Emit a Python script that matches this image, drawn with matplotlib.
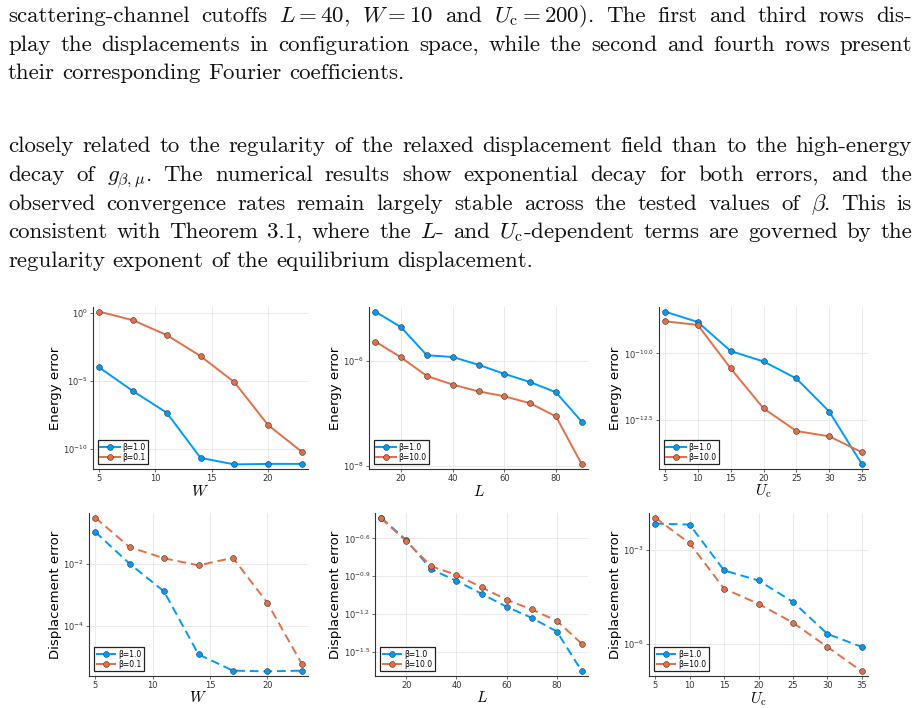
import numpy as np
import matplotlib
matplotlib.use("Agg")
from matplotlib import pyplot as plt
from matplotlib import transforms as mtransforms

plt.rcParams['mathtext.fontset'] = 'dejavusans'

# ---- data ----
W_vals = [5, 8, 11, 14, 17, 20, 23]
L_vals = [10, 20, 30, 40, 50, 60, 70, 80, 90]
Uc_vals = [5, 10, 15, 20, 25, 30, 35]

energy_W_b1 = [9.8e-5, 1.8e-6, 4.7e-8, 2.3e-11, 7.6e-12, 8.3e-12, 8.3e-12]
energy_W_b01 = [1.2e0, 2.8e-1, 2.3e-2, 6.6e-4, 8.1e-6, 5.8e-9, 6.3e-11]
energy_L_b1 = [8.5e-6, 4.3e-6, 1.26e-6, 1.17e-6, 8.3e-7, 5.6e-7, 3.9e-7, 2.5e-7, 6.9e-8]
energy_L_b10 = [2.3e-6, 1.15e-6, 5.1e-7, 3.5e-7, 2.6e-7, 2.1e-7, 1.55e-7, 8.7e-8, 1.07e-8]
energy_U_b1 = [3.7e-9, 1.5e-9, 1.23e-10, 5.0e-11, 1.15e-11, 6.6e-13, 6.9e-15]
energy_U_b10 = [1.6e-9, 1.17e-9, 2.75e-11, 8.7e-13, 1.23e-13, 7.8e-14, 1.95e-14]

disp_W_b1 = [1.05e-1, 1.0e-2, 1.3e-3, 1.26e-5, 3.8e-6, 3.6e-6, 3.8e-6]
disp_W_b01 = [3.0e-1, 3.4e-2, 1.5e-2, 8.9e-3, 1.55e-2, 5.6e-4, 6.3e-6]
disp_L_b1 = [0.367, 0.244, 0.143, 0.116, 0.0916, 0.0721, 0.059, 0.0459, 0.0222]
disp_L_b10 = [0.363, 0.239, 0.151, 0.129, 0.103, 0.082, 0.0687, 0.0558, 0.0366]
disp_U_b1 = [6.8e-3, 6.3e-3, 2.2e-4, 1.05e-4, 2.2e-5, 2.1e-6, 8.1e-7]
disp_U_b10 = [1.05e-2, 1.6e-3, 5.8e-5, 1.9e-5, 4.8e-6, 8.1e-7, 1.35e-7]

# y tick exponents shown on each panel
yt_energy_W = ['0', '-5', '-10']
yt_energy_L = ['-6', '-8']
yt_energy_U = ['-10.0', '-12.5']
yt_disp_W = ['-2', '-4']
yt_disp_L = ['-0.6', '-0.9', '-1.2', '-1.5']
yt_disp_U = ['-3', '-6']

# math is written without spaces so lines can be split into words
para1 = [
    r"scattering-channel cutoffs $L=40$, $W=10$ and $U_{\mathrm{c}}=200$). The first and third rows dis-",
    "play the displacements in configuration space, while the second and fourth rows present",
    "their corresponding Fourier coefficients.",
]
para2 = [
    "closely related to the regularity of the relaxed displacement field than to the high-energy",
    r"decay of $g_{\beta,\mu}$.  The numerical results show exponential decay for both errors, and the",
    r"observed convergence rates remain largely stable across the tested values of $\beta$.  This is",
    r"consistent with Theorem 3.1, where the $L$- and $U_{\mathrm{c}}$-dependent terms are governed by the",
    "regularity exponent of the equilibrium displacement.",
]

BLUE = '#009AFA'
ORANGE = '#E36F47'

FW, FH = 919, 708
fig = plt.figure(figsize=(FW / 100, FH / 100), dpi=100)
renderer = fig.canvas.get_renderer()


def put_line(text, y_px, justify):
    words = text.split()
    ts = [fig.text(0, 1 - y_px / FH, w, family='cmr10', fontsize=16.5,
                   math_fontfamily='cm', va='baseline', ha='left',
                   color='#111111') for w in words]
    widths = [t.get_window_extent(renderer=renderer).width for t in ts]
    if justify and len(ts) > 1:
        gap = (912 - 8 - sum(widths)) / (len(ts) - 1)
    else:
        gap = 7.5
    x = 8.0
    for t, w in zip(ts, widths):
        t.set_x(x / FW)
        x += w + gap


for i, line in enumerate(para1):
    put_line(line, [22, 51, 79][i], i < len(para1) - 1)
for i, line in enumerate(para2):
    put_line(line, [152, 181, 210, 238, 267][i], i < len(para2) - 1)


def panel(box, x, y1, y2, lab1, lab2, xticks, yexp, xlabel, ylabel,
          dashed, ylab_x, xlab_y):
    l, t, r, b = box
    ax = fig.add_axes([l / FW, 1 - b / FH, (r - l) / FW, (b - t) / FH])
    ls = (0, (4.5, 2.5)) if dashed else '-'
    for yy, col, lab in ((y1, BLUE, lab1), (y2, ORANGE, lab2)):
        ax.plot(x, yy, color=col, lw=1.4, ls=ls, marker='o', ms=4.2,
                mec='#333333', mew=0.4, label=lab)
    ax.set_yscale('log')
    ax.margins(0.03)
    ax.set_xticks(xticks)
    ax.set_yticks([10 ** float(e) for e in yexp])
    ax.set_yticklabels([r'$10^{%s}$' % e.replace('-', '{-}') for e in yexp])
    ax.yaxis.set_minor_locator(plt.NullLocator())
    ax.grid(True, color='#e6e6e6', lw=0.6)
    ax.set_axisbelow(True)
    for s in ('top', 'right'):
        ax.spines[s].set_visible(False)
    for s in ('left', 'bottom'):
        ax.spines[s].set_color('#333333')
        ax.spines[s].set_linewidth(0.8)
    ax.tick_params(labelsize=6, length=2, width=0.5, colors='#333333',
                   pad=1.5)
    ax.set_xlabel(xlabel, fontsize=11)
    ax.xaxis.label.set_math_fontfamily('cm')
    ax.xaxis.set_label_coords(0.5, 1 - xlab_y / FH,
                              transform=mtransforms.blended_transform_factory(
                                  ax.transAxes, fig.transFigure))
    ax.xaxis.label.set_va('baseline')
    ax.set_ylabel(ylabel, fontsize=9.5, family='DejaVu Sans')
    ax.yaxis.set_label_coords(ylab_x / FW, 0.5,
                              transform=mtransforms.blended_transform_factory(
                                  fig.transFigure, ax.transAxes))
    ax.yaxis.label.set_va('center')
    leg = ax.legend(loc='lower left', fontsize=5.5, frameon=True,
                    fancybox=False, edgecolor='#222222', framealpha=1,
                    borderaxespad=0.6, handlelength=2.6, borderpad=0.35,
                    labelspacing=0.15, handletextpad=0.3, numpoints=1)
    leg.get_frame().set_linewidth(0.9)
    return ax


uc = r'$U_{\mathrm{c}}$'
panel((93, 307, 308, 469), W_vals, energy_W_b1, energy_W_b01, 'β=1.0', 'β=0.1',
      [5, 10, 15, 20], yt_energy_W, '$W$', 'Energy error', False, 55, 496)
panel((369, 307, 588, 469), L_vals, energy_L_b1, energy_L_b10, 'β=1.0', 'β=10.0',
      [20, 40, 60, 80], yt_energy_L, '$L$', 'Energy error', False, 335, 496)
panel((659, 307, 868, 469), Uc_vals, energy_U_b1, energy_U_b10, 'β=1.0', 'β=10.0',
      [5, 10, 15, 20, 25, 30, 35], yt_energy_U, uc, 'Energy error', False, 615, 495)
panel((89, 513, 308, 676), W_vals, disp_W_b1, disp_W_b01, 'β=1.0', 'β=0.1',
      [5, 10, 15, 20], yt_disp_W, '$W$', 'Displacement error', True, 55, 702)
panel((375, 513, 588, 676), L_vals, disp_L_b1, disp_L_b10, 'β=1.0', 'β=10.0',
      [20, 40, 60, 80], yt_disp_L, '$L$', 'Displacement error', True, 335, 702)
panel((649, 513, 868, 676), Uc_vals, disp_U_b1, disp_U_b10, 'β=1.0', 'β=10.0',
      [5, 10, 15, 20, 25, 30, 35], yt_disp_U, uc, 'Displacement error', True, 615, 703)

fig.savefig('out.png', dpi=100)
